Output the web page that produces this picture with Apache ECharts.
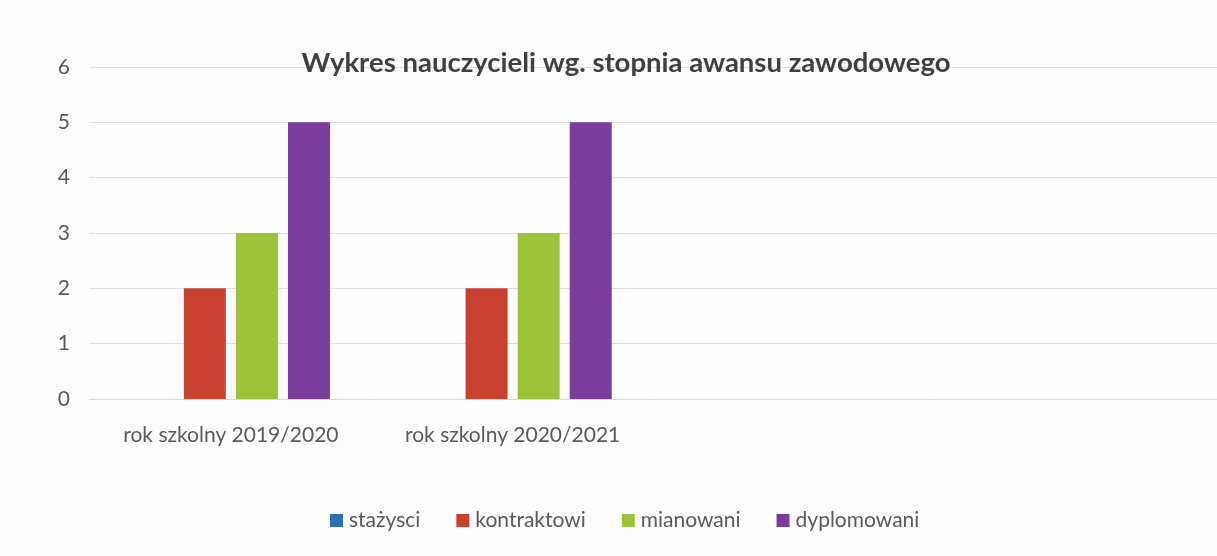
<!DOCTYPE html>
<html>
<head>
<meta charset="utf-8">
<script src="https://cdn.jsdelivr.net/npm/echarts@6/dist/echarts.min.js"></script>
<style>
  html, body { margin: 0; padding: 0; background: #fdfdfd; }
  #chart { width: 1217px; height: 556px; }
</style>
</head>
<body>
<div id="chart"></div>
<script>
const categories = ["rok szkolny 2019/2020", "rok szkolny 2020/2021", "", ""];
const stazysci = [0, 0, null, null];
const kontraktowi = [2, 2, null, null];
const mianowani = [3, 3, null, null];
const dyplomowani = [5, 5, null, null];
const yTicks = [0, 1, 2, 3, 4, 5, 6];

const font = "Lato, 'Open Sans', sans-serif";
const chart = echarts.init(document.getElementById("chart"), undefined, { renderer: "canvas" });

const bar = (name, data, color) => ({
  name,
  type: "bar",
  data,
  barWidth: 42,
  barGap: "24%",
  itemStyle: { color },
});

chart.setOption({
  animation: false,
  backgroundColor: "#fdfdfd",
  textStyle: { fontFamily: font },
  title: {
    text: "Wykres nauczycieli wg. stopnia awansu zawodowego",
    left: 621,
    textAlign: "center",
    top: 44,
    textStyle: { fontSize: 27.5, fontWeight: "bold", color: "#3f3f3f", fontFamily: font },
  },
  grid: { left: 90, right: -9, top: 67, bottom: 157 },
  legend: {
    bottom: 20,
    left: 325,
    itemWidth: 13,
    itemHeight: 13,
    itemGap: 36,
    icon: "rect",
    textStyle: { fontSize: 21, color: "#595959", fontFamily: font, padding: [0, 0, 0, 1] },
    data: ["stażysci", "kontraktowi", "mianowani", "dyplomowani"],
  },
  xAxis: {
    type: "category",
    data: categories,
    axisTick: { show: false },
    axisLine: { lineStyle: { color: "#d9d9d9" } },
    axisLabel: { fontSize: 21, color: "#595959", margin: 26 },
  },
  yAxis: {
    type: "value",
    min: yTicks[0],
    max: yTicks[yTicks.length - 1],
    interval: 1,
    axisLine: { show: false },
    axisTick: { show: false },
    axisLabel: { fontSize: 21, color: "#595959", margin: 20 },
    splitLine: { lineStyle: { color: "#dcdfe6" } },
  },
  series: [
    bar("stażysci", stazysci, "#2e70b8"),
    bar("kontraktowi", kontraktowi, "#c8412e"),
    bar("mianowani", mianowani, "#9dc33b"),
    bar("dyplomowani", dyplomowani, "#7a3d9c"),
  ],
});
</script>
</body>
</html>
